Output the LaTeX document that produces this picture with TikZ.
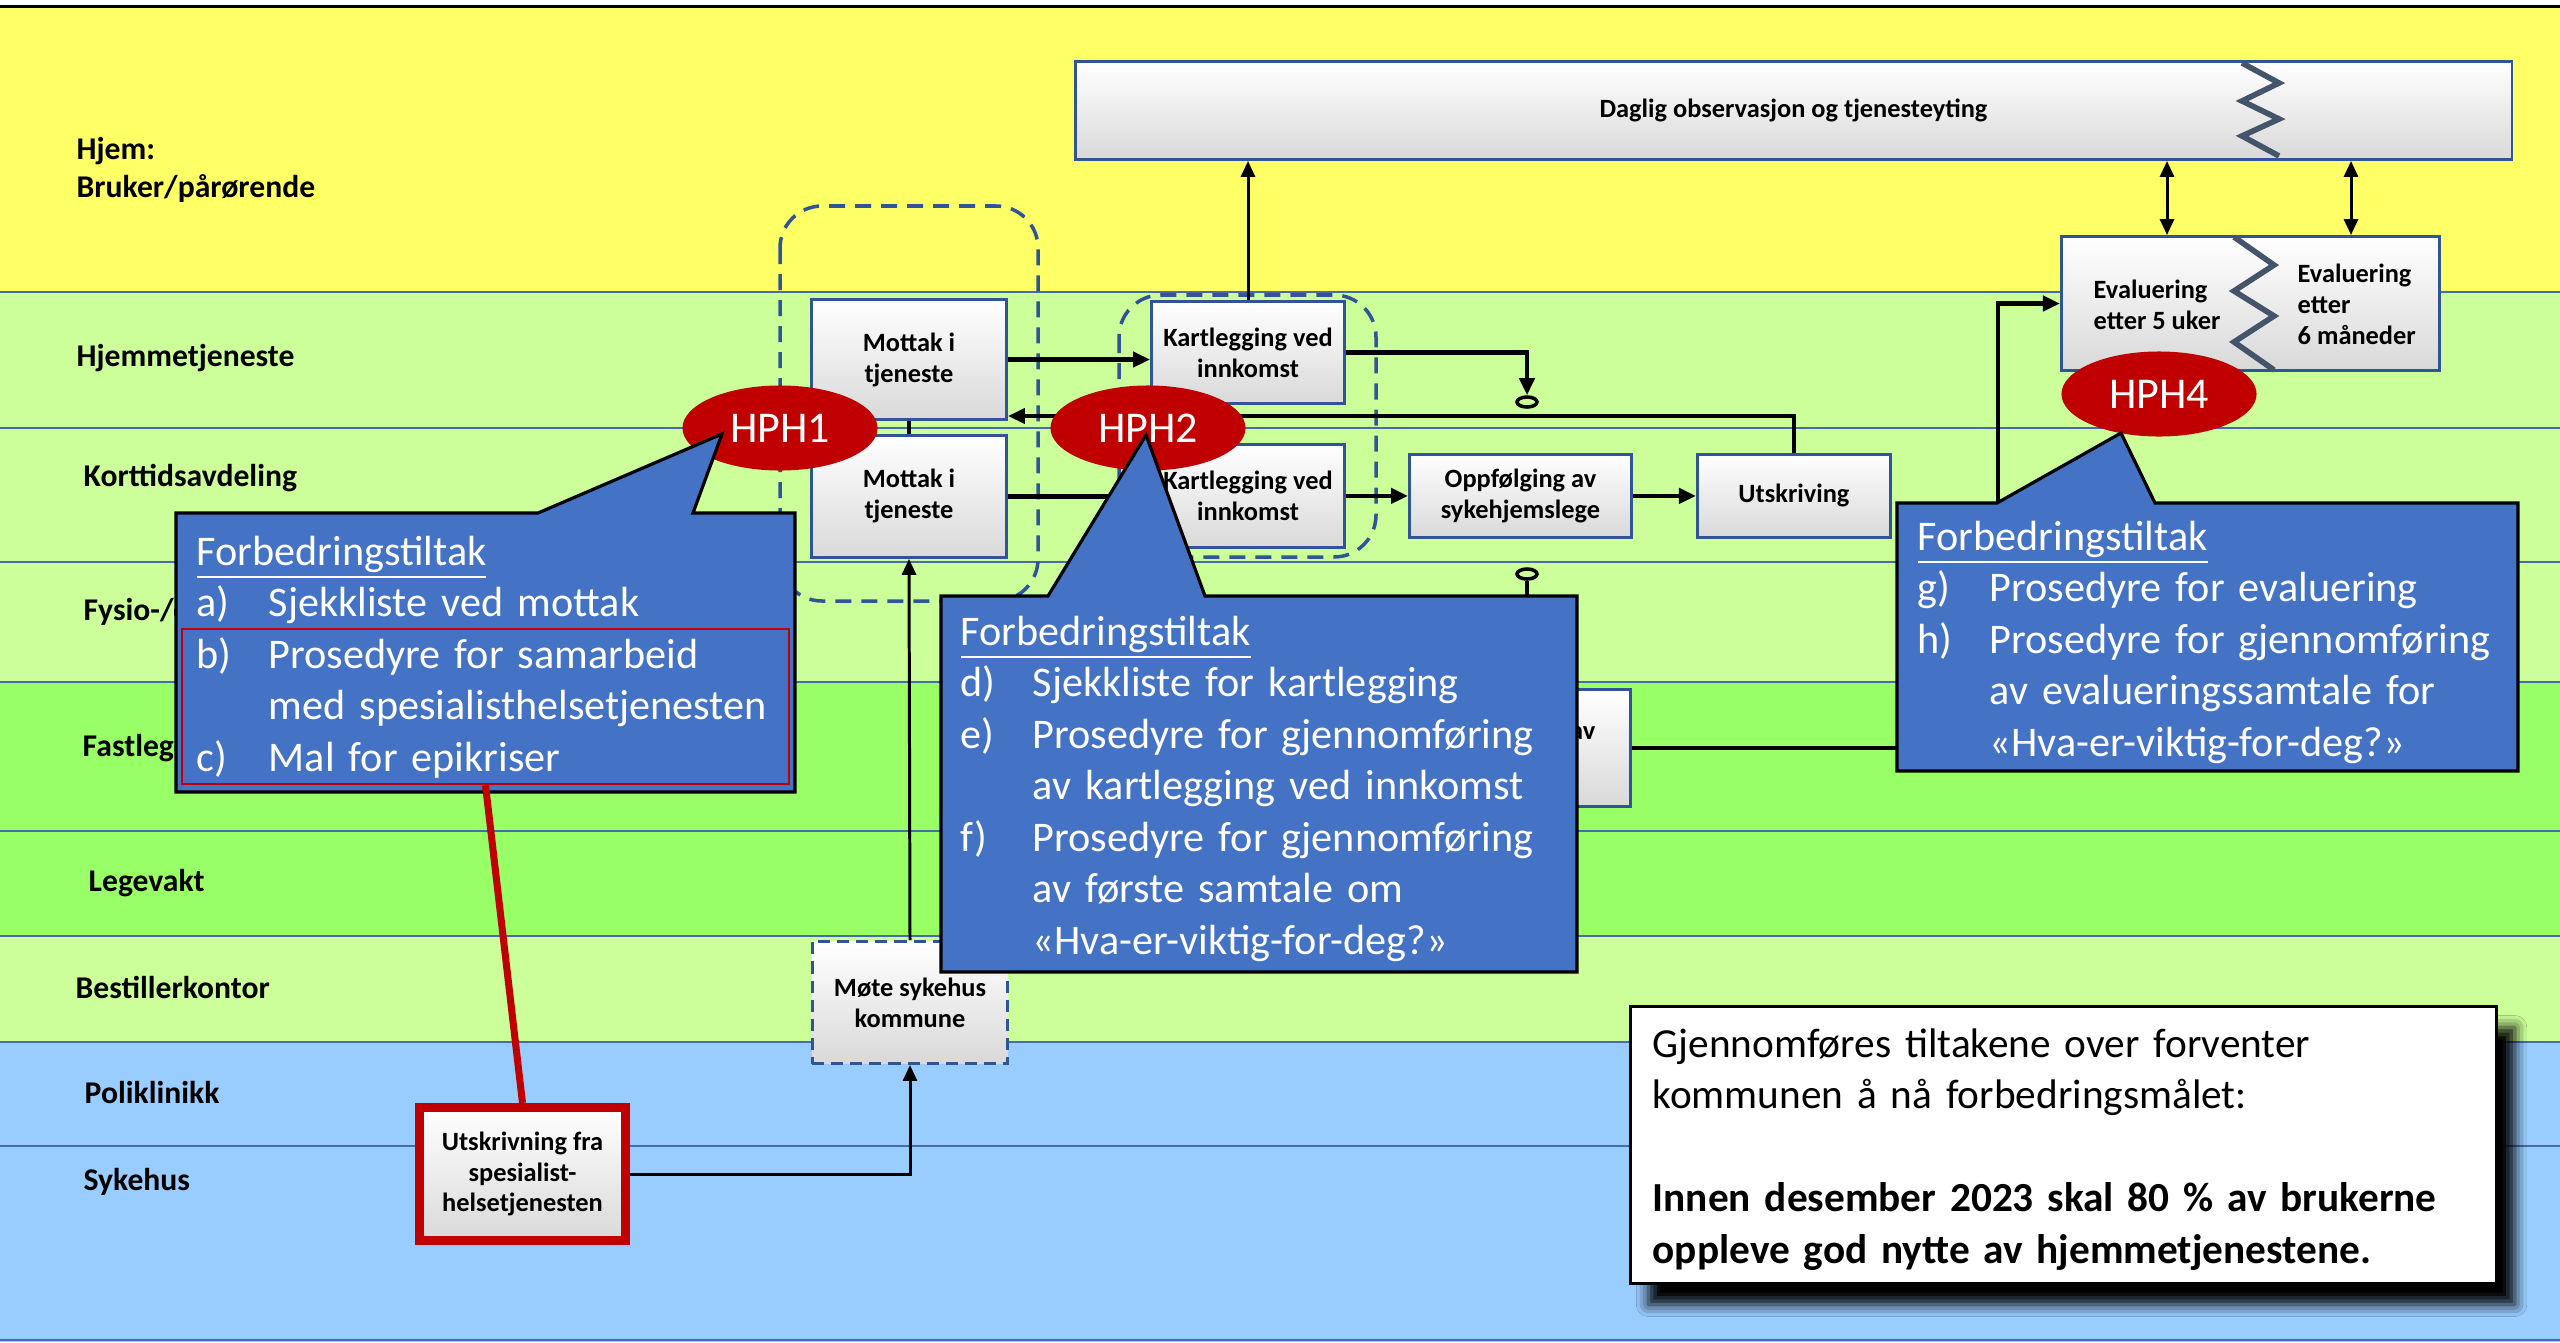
\documentclass[tikz,border=0pt]{standalone}
\usepackage{fontspec}
\setmainfont{Carlito}
\usetikzlibrary{positioning,shapes.geometric,arrows.meta,shadows.blur}

\definecolor{hjemgul}{HTML}{FFFF66}
\definecolor{lysgronn}{HTML}{CCFF99}
\definecolor{gronn}{HTML}{99FF66}
\definecolor{lysbla}{HTML}{99CCFF}
\definecolor{banebla}{HTML}{4A6AAE}
\definecolor{boksbla}{HTML}{2F5597}
\definecolor{tiltakbla}{HTML}{4472C4}
\definecolor{hphrod}{HTML}{C00000}
\definecolor{sikksakk}{HTML}{44546A}

\newcommand{\boksfont}{\fontsize{7.5}{8.8}\selectfont\bfseries}
\newcommand{\tiltakfont}{\fontsize{12}{14.65}\selectfont}
\newcommand{\punkt}[2]{\makebox[0.72cm][l]{#1}#2}
\newcommand{\innrykk}{\hspace*{0.72cm}}

\tikzset{
  banelinje/.style={draw=banebla, line width=0.6pt},
  banetekst/.style={anchor=west, inner sep=0pt, align=left, font=\fontsize{9}{10.8}\selectfont\bfseries},
  boks/.style={draw=boksbla, line width=0.8pt, top color=white, bottom color=black!15, align=center, inner sep=0pt, font=\boksfont},
  bokstekst/.style={anchor=west, inner sep=0pt, align=left, font=\boksfont},
  gruppe/.style={draw=boksbla, line width=1pt, dash pattern=on 0.16cm off 0.1cm, rounded corners=0.42cm},
  hph/.style={ellipse, fill=hphrod, text=white, inner sep=0pt, minimum width=1.95cm, minimum height=0.85cm, font=\fontsize{12.5}{15}\selectfont},
  tiltak/.style={fill=tiltakbla, draw=black, line width=0.9pt},
  tiltaktekst/.style={anchor=base west, inner sep=0pt, text=white, align=left, font=\tiltakfont},
  pil/.style={line width=1.3pt, -{Triangle[length=0.17cm,width=0.15cm]}},
  tynnpil/.style={line width=0.85pt, -{Triangle[length=0.16cm,width=0.14cm]}},
  dobbelpil/.style={line width=0.85pt, {Triangle[length=0.16cm,width=0.14cm]}-{Triangle[length=0.16cm,width=0.14cm]}},
  strek/.style={line width=1.3pt},
  ring/.style={ellipse, draw, line width=1pt, minimum width=0.2cm, minimum height=0.1cm, inner sep=0pt},
  maalboks/.style={draw=black, fill=white, line width=0.9pt, minimum width=8.66cm, minimum height=2.77cm,
    blur shadow={shadow xshift=0.18cm, shadow yshift=-0.21cm, shadow blur radius=0.12cm, shadow opacity=100}},
  maaltekst/.style={anchor=base west, inner sep=0pt, text width=8.3cm, align=left, font=\fontsize{11.75}{14.65}\selectfont}
}

\begin{document}
\begin{tikzpicture}[x=0.01cm, y=-0.01cm]
\useasboundingbox (0,0) rectangle (2560,1342);

% baner
\foreach \topp/\bunn/\farge in {8/292/hjemgul, 292/428/lysgronn, 428/562/lysgronn, 562/682/lysgronn,
    682/831/gronn, 831/936/gronn, 936/1042/lysgronn, 1042/1146/lysbla, 1146/1342/lysbla}
  \fill[\farge] (0,\topp) rectangle (2560,\bunn);
\foreach \grense in {292,428,562,682,831,936,1042,1146,1340}
  \draw[banelinje] (0,\grense) -- (2560,\grense);
\draw[black, line width=0.9pt] (0,6.5) -- (2560,6.5);

\node[banetekst] (hjem) at (76,170) {Hjem:\\Bruker/pårørende};
\node[banetekst] (hjemmetj) at (76,358) {Hjemmetjeneste};
\node[banetekst] (korttid) at (83,478) {Korttidsavdeling};
\node[banetekst] (fysio) at (83,612) {Fysio-/ergoterapi};
\node[banetekst] (fastlege) at (82,748) {Fastlege};
\node[banetekst] (legevakt) at (88,883) {Legevakt};
\node[banetekst] (bestiller) at (75,987) {Bestillerkontor};
\node[banetekst] (poli) at (84,1092) {Poliklinikk};
\node[banetekst] (sykehus) at (83,1182) {Sykehus};

% grupper
\draw[gruppe] (780,206) rectangle (1038,601);
\draw[gruppe] (1119,295) rectangle (1376,557);

% bokser
\node[boks, minimum width=1.95cm, minimum height=1.2cm] (mottakH) at (909,359.5) {Mottak i\\tjeneste};
\node[boks, minimum width=1.95cm, minimum height=1.22cm, below=0.13cm of mottakH] (mottakK) {Mottak i\\tjeneste};
\node[boks, minimum width=1.93cm, minimum height=1.02cm] (kartH) at (1248,352.5) {Kartlegging ved\\innkomst};
\node[boks, minimum width=1.93cm, minimum height=1.03cm, below=0.38cm of kartH] (kartK) {Kartlegging ved\\innkomst};
\node[boks, minimum width=2.22cm, minimum height=0.83cm, right=0.62cm of kartK] (oppf) {Oppfølging av\\sykehjemslege};
\node[boks, minimum width=1.93cm, minimum height=0.83cm, right=0.63cm of oppf] (utskr) {Utskriving};
\node[boks, minimum width=2.22cm, minimum height=1.17cm] (oppfF) at (1519.5,748) {Oppfølging av\\fastlege};
\node[boks, minimum width=14.36cm, minimum height=0.98cm] (daglig) at (1793.5,110.5) {Daglig observasjon og tjenesteyting};
\node[boks, minimum width=3.78cm, minimum height=1.34cm] (evaluering) at (2250.5,303.5) {};
\node[bokstekst] (evalA) at (2093,304.5) {Evaluering\\etter 5 uker};
\node[bokstekst] (evalB) at (2297,304) {Evaluering\\etter\\6 måneder};
\node[boks, dash pattern=on 0.12cm off 0.07cm, minimum width=1.95cm, minimum height=1.22cm] (mote) at (910,1002.5) {Møte sykehus\\kommune};
\node[boks, draw=hphrod, line width=2.6pt, minimum width=2.06cm, minimum height=1.33cm] (utskrSpes) at (522.5,1174) {Utskrivning fra\\spesialist-\\helsetjenesten};

\draw[sikksakk, line width=1.6pt] (2242,63) -- (2279,83) -- (2242,101) -- (2279,119) -- (2242,136) -- (2279,156);
\draw[sikksakk, line width=1.6pt] (2234,237) -- (2274,265) -- (2234,291) -- (2274,316) -- (2234,342) -- (2274,370);

\node[ring] (ring1) at (1527,402) {};
\node[ring] (ring2) at (1527,574) {};

% forbindelser
\coordinate (retur) at (1792,416);
\coordinate (dobbel1) at (2167,0);
\coordinate (dobbel2) at (2351,0);
\coordinate (evalinn) at (1998,303.5);
\draw[pil] (mottakH.east) -- (mottakH.east -| kartH.west);
\draw[pil] (kartH.east) -| (ring1.north);
\draw[pil] (utskr.north) |- (retur -| mottakH.east);
\draw[strek] (mottakH.south) -- (mottakK.north);
\draw[pil] (mottakK.east) -- (mottakK.east -| kartK.west);
\draw[pil] (kartK.east) -- (oppf.west);
\draw[pil] (oppf.east) -- (utskr.west);
\draw[tynnpil] (kartH.north) -- (kartH.north |- daglig.south);
\draw[dobbelpil] (dobbel1 |- evaluering.north) -- (dobbel1 |- daglig.south);
\draw[dobbelpil] (dobbel2 |- evaluering.north) -- (dobbel2 |- daglig.south);
\draw[pil] (oppfF.east) -| (evalinn) -- (evaluering.west);
\draw[strek] (ring2.south) -- (ring2.south |- oppfF.north);
\draw[tynnpil] (mote.north) -- (mottakK.south);
\draw[tynnpil] (utskrSpes.east) -| (mote.south);

% HPH
\node[hph] (hph1) at (780,428) {HPH1};
\node[hph] (hph2) at (1148,428) {HPH2};
\node[hph] (hph4) at (2159,394) {HPH4};

% forbedringstiltak
\draw[tiltak] (176,513) -- (538,513) -- (722,434) -- (693,513) -- (795,513) -- (795,792) -- (176,792) -- cycle;
\node[tiltaktekst, text width=6.2cm] (tiltak1) at (196,565) {\underline{Forbedringstiltak}\\
  \punkt{a)}{Sjekkliste ved mottak}\\
  \punkt{b)}{Prosedyre for samarbeid}\\
  \innrykk med spesialisthelsetjenesten\\
  \punkt{c)}{Mal for epikriser}};
\node[draw=hphrod, line width=0.7pt, minimum width=6.07cm, minimum height=1.55cm, inner sep=0pt] (rodramme) at (485.5,706.5) {};

\draw[tiltak] (941,596) -- (1048,596) -- (1146,435) -- (1205,596) -- (1577,596) -- (1577,972) -- (941,972) -- cycle;
\node[tiltaktekst, text width=6.5cm] (tiltak2) at (960,645) {\underline{Forbedringstiltak}\\
  \punkt{d)}{Sjekkliste for kartlegging}\\
  \punkt{e)}{Prosedyre for gjennomføring}\\
  \innrykk av kartlegging ved innkomst\\
  \punkt{f)}{Prosedyre for gjennomføring}\\
  \innrykk av første samtale om\\
  \innrykk «Hva-er-viktig-for-deg?»};

\draw[tiltak] (1897,503) -- (1997,503) -- (2121,433) -- (2155,503) -- (2518,503) -- (2518,771) -- (1897,771) -- cycle;
\node[tiltaktekst, text width=6.3cm] (tiltak4) at (1917,550) {\underline{Forbedringstiltak}\\
  \punkt{g)}{Prosedyre for evaluering}\\
  \punkt{h)}{Prosedyre for gjennomføring}\\
  \innrykk av evalueringssamtale for\\
  \innrykk «Hva-er-viktig-for-deg?»};

\draw[hphrod, line width=2pt] (rodramme.south) -- (utskrSpes.north);

% maal
\node[maalboks] (maal) at (2063.5,1145) {};
\node[maaltekst] (maaltekst) at (1652,1057) {Gjennomføres tiltakene over forventer\\
  kommunen å nå forbedringsmålet:\\[14.65pt]
  \textbf{Innen desember 2023 skal 80 \% av brukerne}\\
  \textbf{oppleve god nytte av hjemmetjenestene.}};
\end{tikzpicture}
\end{document}
